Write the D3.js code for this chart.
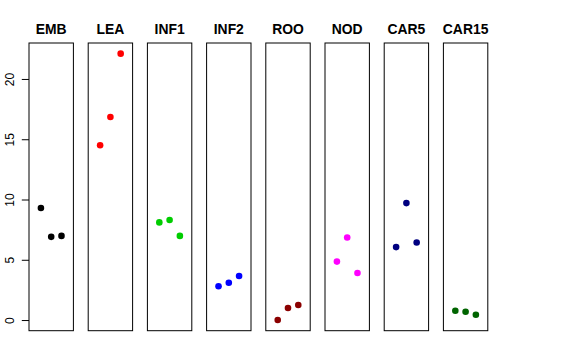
<!DOCTYPE html>
<html><head><meta charset="utf-8">
<script src="https://cdn.jsdelivr.net/npm/d3@7"></script>
<style>body{margin:0;background:#fff}svg{display:block}</style>
</head><body>
<svg id="c" width="576" height="360"></svg>
<script>
const categories = ["EMB","LEA","INF1","INF2","ROO","NOD","CAR5","CAR15"];
const colors = ["#000000","#FF0000","#00CD00","#0000FF","#8B0000","#FF00FF","#000080","#006400"];
const valuesEMB = [9.3, 6.9, 6.98];
const valuesLEA = [14.5, 16.85, 22.1];
const valuesINF1 = [8.1, 8.3, 6.98];
const valuesINF2 = [2.8, 3.1, 3.65];
const valuesROO = [0.0, 1.0, 1.25];
const valuesNOD = [4.85, 6.85, 3.9];
const valuesCAR5 = [6.05, 9.7, 6.43];
const valuesCAR15 = [0.77, 0.69, 0.44];
const series = [valuesEMB, valuesLEA, valuesINF1, valuesINF2, valuesROO, valuesNOD, valuesCAR5, valuesCAR15];
const yTicks = [0, 5, 10, 15, 20];

(function(){
const svg = d3.select("#c");
const plotTop = 43, plotBottom = 330.7;
const panelLeft0 = 29, panelStep = 59.2, panelW = 44.4;

const y = d3.scaleLinear().domain([-0.884, 22.984]).range([plotBottom, plotTop]);
const x = d3.scaleLinear().domain([-0.16, 4.16]).range([0, panelW]);

categories.forEach((cat, i) => {
  const g = svg.append("g").attr("transform", `translate(${panelLeft0 + i*panelStep},0)`);
  series[i].forEach((v, j) => {
    g.append("circle").attr("cx", x(j+1)).attr("cy", y(v)).attr("r", 3.3).attr("fill", colors[i]);
  });
  g.append("rect").attr("x", 0).attr("y", plotTop).attr("width", panelW).attr("height", plotBottom - plotTop)
    .attr("fill", "none").attr("stroke", "#000").attr("stroke-width", 1);
  g.append("text").attr("x", panelW/2).attr("y", 34.3).attr("text-anchor", "middle")
    .attr("font-family", "Liberation Sans, Arial, sans-serif").attr("font-weight", "bold")
    .attr("font-size", 13.9).text(cat);
  if (i === 0) {
    const ax = g.append("g").call(d3.axisLeft(y).tickValues(yTicks).tickSize(7.2).tickFormat(d3.format("d")));
    ax.select(".domain").remove();
    ax.selectAll(".tick line").attr("stroke", "#000");
    ax.selectAll(".tick text")
      .attr("transform", "rotate(-90)")
      .attr("x", 0).attr("y", -14.7).attr("dy", 0)
      .attr("text-anchor", "middle")
      .attr("font-family", "Liberation Sans, Arial, sans-serif")
      .attr("font-size", 12).attr("fill", "#000");
  }
});
})();
</script>
</body></html>
